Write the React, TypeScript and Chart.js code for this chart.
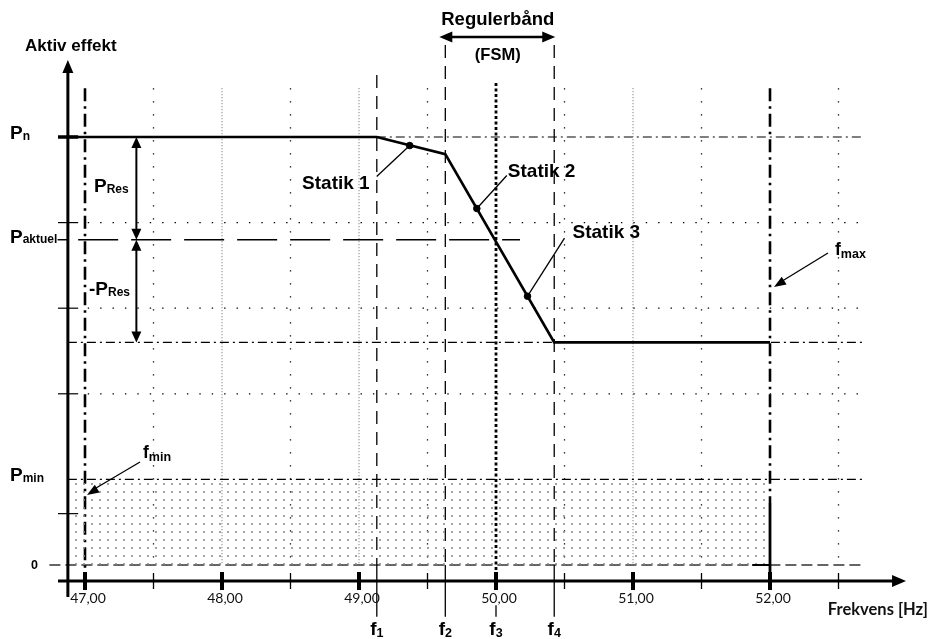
import React, { useEffect, useRef } from "react";
import { Chart, registerables } from "chart.js";

Chart.register(...registerables);

// ---------- data ----------
const curveFreq = [46.875, 49.13, 49.63, 50.425, 52.0];
const curvePower = [100, 100, 96, 52, 52];
const statikFreq = [49.37, 49.86, 50.23];
const statikPower = [98.0, 83.3, 62.8];
const statikLabels = ["Statik 1", "Statik 2", "Statik 3"];
const majorFreqs = [47, 48, 49, 50, 51, 52];
const majorLabels = ["47,00", "48,00", "49,00", "50,00", "51,00", "52,00"];
const minorFreqs = [47.5, 48.5, 49.5, 50.5, 51.5, 52.5];
const denseGridFreqs = [48, 49, 51];
const markerFreqs = [49.13, 49.63, 50.0, 50.425];
const markerSubs = ["1", "2", "3", "4"];
const bandFreqs = [49.63, 50.425];
const fMin = 47;
const fMax = 52;
const pN = 100;
const pAktuel = 76;
const pLow = 52;
const pMin = 20;
const pZero = 0;
const minorPowerTicks = [12, 40, 60, 80];
const dottedPowerLevels = [40, 60, 80];

// axis placement in data units
const yAxisFreq = 46.875;
const xAxisPower = -3.74;

const ARIAL = '"Liberation Sans", Arial, sans-serif';
const CAL = 'Lato, "Open Sans", sans-serif';

function seg(ctx: CanvasRenderingContext2D, x1: number, y1: number, x2: number, y2: number, w: number, color: string, dash: number[] = []) {
  ctx.save();
  ctx.beginPath();
  ctx.setLineDash(dash);
  ctx.lineWidth = w;
  ctx.strokeStyle = color;
  ctx.moveTo(x1, y1);
  ctx.lineTo(x2, y2);
  ctx.stroke();
  ctx.restore();
}

function head(ctx: CanvasRenderingContext2D, tx: number, ty: number, fx: number, fy: number, len: number, hw: number) {
  const a = Math.atan2(ty - fy, tx - fx);
  const bx = tx - len * Math.cos(a);
  const by = ty - len * Math.sin(a);
  ctx.save();
  ctx.fillStyle = "#000";
  ctx.beginPath();
  ctx.moveTo(tx, ty);
  ctx.lineTo(bx + hw * Math.sin(a), by - hw * Math.cos(a));
  ctx.lineTo(bx - hw * Math.sin(a), by + hw * Math.cos(a));
  ctx.closePath();
  ctx.fill();
  ctx.restore();
}

function subText(ctx: CanvasRenderingContext2D, x: number, y: number, main: string, sub: string, ms: number, ss: number, align: string = "left", off: number = 2) {
  ctx.save();
  ctx.fillStyle = "#000";
  ctx.textAlign = "left";
  ctx.textBaseline = "alphabetic";
  const mf = `bold ${ms}px ${ARIAL}`;
  const sf = `bold ${ss}px ${ARIAL}`;
  ctx.font = mf;
  const w1 = ctx.measureText(main).width;
  ctx.font = sf;
  const w2 = ctx.measureText(sub).width;
  let x0 = x;
  if (align === "right") x0 = x - w1 - w2;
  if (align === "center") x0 = x - (w1 + w2) / 2;
  ctx.font = mf;
  ctx.fillText(main, x0, y);
  ctx.font = sf;
  ctx.fillText(sub, x0 + w1, y + off);
  ctx.restore();
}

function text(ctx: CanvasRenderingContext2D, s: string, x: number, y: number, font: string, align: CanvasTextAlign = "left", color = "#000") {
  ctx.save();
  ctx.font = font;
  ctx.fillStyle = color;
  ctx.textAlign = align;
  ctx.textBaseline = "alphabetic";
  ctx.fillText(s, x, y);
  ctx.restore();
}

const diagramPlugin = {
  id: "diagram",
  beforeDatasetsDraw(chart: any) {
    const ctx: CanvasRenderingContext2D = chart.ctx;
    const X = (v: number) => chart.scales.x.getPixelForValue(v);
    const Y = (v: number) => chart.scales.y.getPixelForValue(v);
    const gridTop = Y(111.4);
    // sparse dotted half-Hz verticals
    minorFreqs.forEach((f) => seg(ctx, X(f), gridTop, X(f), Y(pZero), 1.3, "#000", [1.4, 11.6]));
    // dense grey dotted verticals
    denseGridFreqs.forEach((f) => seg(ctx, X(f), gridTop, X(f), Y(pZero), 1, "#666", [1, 2]));
    // sparse dotted horizontals
    dottedPowerLevels.forEach((p) => seg(ctx, X(47.02), Y(p), X(52.66), Y(p), 1.3, "#000", [1.4, 11]));
    // dash-dot horizontals
    seg(ctx, X(markerFreqs[0]), Y(pN), X(52.69), Y(pN), 1.2, "#000", [9, 4, 2, 4]);
    seg(ctx, X(yAxisFreq), Y(pLow), X(52.69), Y(pLow), 1.2, "#000", [9, 4, 2, 4]);
    seg(ctx, X(yAxisFreq), Y(pMin), X(52.69), Y(pMin), 1.2, "#000", [9, 4, 2, 4]);
    // zero dashed
    seg(ctx, X(46.74), Y(pZero), X(52.67), Y(pZero), 1.6, "#333", [11, 5]);
    // P aktuel dashed
    seg(ctx, X(46.8), Y(pAktuel), X(46.88), Y(pAktuel), 1.5, "#000");
    seg(ctx, X(46.95), Y(pAktuel), X(50.175), Y(pAktuel), 1.5, "#000", [40, 13]);
    // f1, f2, f4 dashed verticals
    markerFreqs.forEach((f, i) => {
      if (i === 2) return;
      const top = i === 0 ? Y(114.5) : Y(121.5);
      seg(ctx, X(f), top, X(f), Y(pZero), 1.3, "#000", [13, 8]);
      seg(ctx, X(f), Y(pZero), X(f), Y(-12.1), 1.3, "#000");
    });
    // f3 thick dotted
    const f3 = markerFreqs[2];
    seg(ctx, X(f3), Y(112.6), X(f3), Y(xAxisPower), 2.8, "#000", [3, 2.5]);
    seg(ctx, X(f3), Y(-9.4), X(f3), Y(-12.1), 1.3, "#000");
    // fmin / fmax dash-dot thick
    seg(ctx, X(fMin), Y(111.4), X(fMin), Y(xAxisPower), 2.6, "#000", [13, 5, 2.5, 5]);
    seg(ctx, X(fMax), Y(111.4), X(fMax), Y(14.5), 2.6, "#000", [13, 5, 2.5, 5]);
  },
  afterDatasetsDraw(chart: any) {
    const ctx: CanvasRenderingContext2D = chart.ctx;
    const X = (v: number) => chart.scales.x.getPixelForValue(v);
    const Y = (v: number) => chart.scales.y.getPixelForValue(v);
    const ax = X(yAxisFreq);
    const ay = Y(xAxisPower);

    // fmax solid bottom part
    seg(ctx, X(fMax), Y(14.5), X(fMax), ay, 2.8, "#000");
    seg(ctx, X(51.87), Y(pZero), X(fMax), Y(pZero), 2, "#000");

    // y axis
    const yTop = Y(118);
    seg(ctx, ax, Y(-7.5), ax, yTop + 8, 3, "#000");
    head(ctx, ax, yTop, ax, yTop + 20, 13, 5.5);
    // x axis
    const xTip = X(52.993);
    seg(ctx, X(46.803), ay, xTip - 8, ay, 3, "#000");
    head(ctx, xTip, ay, xTip - 20, ay, 14, 6);

    // y ticks
    minorPowerTicks.forEach((p) => seg(ctx, X(46.803), Y(p), X(46.95), Y(p), 1.2, "#000"));
    seg(ctx, X(46.803), Y(pN), X(46.95), Y(pN), 3.5, "#000");

    // x ticks
    majorFreqs.forEach((f) => seg(ctx, X(f), ay - 9, X(f), ay + 9, 4, "#000"));
    minorFreqs.forEach((f) => seg(ctx, X(f), ay - 8, X(f), ay + 8, 1.3, "#000"));
    majorFreqs.forEach((f, i) => text(ctx, majorLabels[i], X(f) + 3, ay + 22, `14px ${CAL}`, "center", "#111"));

    // reserve arrows
    const rx = X(47.375);
    seg(ctx, rx, Y(pN) + 8, rx, Y(pAktuel) - 8, 2, "#000");
    head(ctx, rx, Y(pN), rx, Y(pN) + 10, 11, 5);
    head(ctx, rx, Y(pAktuel), rx, Y(pAktuel) - 10, 11, 5);
    seg(ctx, rx, Y(pAktuel) + 8, rx, Y(pLow) - 8, 2, "#000");
    head(ctx, rx, Y(pAktuel), rx, Y(pAktuel) + 10, 11, 5);
    head(ctx, rx, Y(pLow), rx, Y(pLow) - 10, 11, 5);

    // Regulerbånd arrow
    const bx1 = X(bandFreqs[0]) - 6;
    const bx2 = X(bandFreqs[1]) + 1;
    const by = 37;
    seg(ctx, bx1 + 8, by, bx2 - 8, by, 2.5, "#000");
    head(ctx, bx1, by, bx1 + 10, by, 13, 5.5);
    head(ctx, bx2, by, bx2 - 10, by, 13, 5.5);
    const bc = (X(bandFreqs[0]) + X(bandFreqs[1])) / 2 - 2;
    text(ctx, "Regulerbånd", bc, 25, `bold 18.5px ${ARIAL}`, "center");
    text(ctx, "(FSM)", bc, 60, `bold 16.5px ${ARIAL}`, "center");

    // Statik leaders and labels
    const meta = chart.getDatasetMeta(2);
    const pts = meta.data;
    const offs = [
      { lx: -33, ly: 31, tx: -40, ty: 43, align: "right" },
      { lx: 30, ly: -33, tx: 31, ty: -31, align: "left" },
      { lx: 37, ly: -58, tx: 45, ty: -58, align: "left" },
    ];
    pts.forEach((p: any, i: number) => {
      const o = offs[i];
      seg(ctx, p.x, p.y, p.x + o.lx, p.y + o.ly, 1.3, "#000");
      text(ctx, statikLabels[i], p.x + o.tx, p.y + o.ty, `bold 19px ${ARIAL}`, o.align as CanvasTextAlign);
    });

    // fmin / fmax arrows
    seg(ctx, 140, 462, X(fMin) + 6, 491, 1.3, "#000");
    head(ctx, X(fMin) + 2, 495, 140, 462, 12, 4.5);
    seg(ctx, 828, 253, X(fMax) + 9, 283, 1.3, "#000");
    head(ctx, X(fMax) + 4, 287, 828, 253, 12, 4.5);

    // labels
    text(ctx, "Aktiv effekt", 25, 51, `bold 17px ${ARIAL}`);
    subText(ctx, 10, Y(pN) + 2, "P", "n", 19, 12, "left", 1);
    subText(ctx, 94, 192, "P", "Res", 19, 12, "left", 1);
    subText(ctx, 10, Y(pAktuel) + 3, "P", "aktuel", 19, 12, "left", 0);
    subText(ctx, 89, 295, "-P", "Res", 19, 12, "left", 1);
    subText(ctx, 10, Y(pMin) + 2, "P", "min", 19, 12, "left", 1);
    text(ctx, "0", 31, Y(pZero) + 4, `bold 12.5px ${ARIAL}`);
    subText(ctx, 143, 458, "f", "min", 17.5, 12.5, "left", 3);
    subText(ctx, 835, 255, "f", "max", 17.5, 12.5, "left", 3);
    markerFreqs.forEach((f, i) => subText(ctx, X(f), 635, "f", markerSubs[i], 19, 12.5, "center", 2));
    text(ctx, "Frekvens [Hz]", 928, 615, `bold 16.5px ${CAL}`, "right", "#111");
  },
};

export default function App() {
  const ref = useRef<HTMLCanvasElement | null>(null);
  useEffect(() => {
    document.body.style.margin = "0";
    const canvas = ref.current!;
    // dotted fill pattern
    const pc = document.createElement("canvas");
    pc.width = 8;
    pc.height = 8;
    const pctx = pc.getContext("2d")!;
    pctx.fillStyle = "#8a8a8a";
    pctx.beginPath();
    pctx.arc(4, 4, 1.05, 0, Math.PI * 2);
    pctx.fill();
    const pattern = canvas.getContext("2d")!.createPattern(pc, "repeat")!;

    const chart = new Chart(canvas, {
      type: "line",
      data: {
        datasets: [
          {
            data: [
              { x: yAxisFreq, y: pMin },
              { x: fMax, y: pMin },
            ],
            borderWidth: 0,
            pointRadius: 0,
            backgroundColor: pattern as any,
            fill: { value: pZero },
            order: 3,
          },
          {
            data: curveFreq.map((f, i) => ({ x: f, y: curvePower[i] })),
            borderColor: "#000",
            borderWidth: 2.7,
            pointRadius: 0,
            tension: 0,
            fill: false,
            order: 2,
          },
          {
            data: statikFreq.map((f, i) => ({ x: f, y: statikPower[i] })),
            showLine: false,
            pointRadius: 3.3,
            pointBackgroundColor: "#000",
            pointBorderColor: "#000",
            order: 1,
          },
        ],
      },
      options: {
        animation: false,
        responsive: false,
        maintainAspectRatio: false,
        events: [],
        layout: { padding: 0, autoPadding: false },
        plugins: { legend: { display: false }, tooltip: { enabled: false } },
        scales: {
          x: { type: "linear", min: 47 - 85 / 137, max: 47 - 85 / 137 + 932 / 137, display: false },
          y: { type: "linear", min: 565 / 4.28 - 639 / 4.28, max: 565 / 4.28, display: false },
        },
      },
      plugins: [diagramPlugin],
    });
    return () => chart.destroy();
  }, []);
  return (
    <div style={{ position: "fixed", left: 0, top: 0, width: 932, height: 639, background: "#fff" }}>
      <canvas ref={ref} width={932} height={639} style={{ width: 932, height: 639, display: "block" }} />
    </div>
  );
}
